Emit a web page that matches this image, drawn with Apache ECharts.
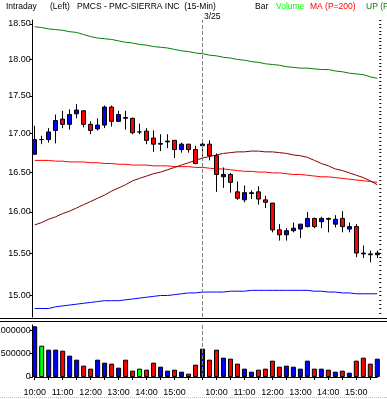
<!DOCTYPE html>
<html><head><meta charset="utf-8">
<script src="https://cdn.jsdelivr.net/npm/echarts@6/dist/echarts.min.js"></script>
<style>html,body{margin:0;padding:0;background:#fff;overflow:hidden}#c{width:387px;height:399px}</style>
</head><body><div id="c"></div>
<script>
const times = ["10:00","10:15","10:30","10:45","11:00","11:15","11:30","11:45","12:00","12:15","12:30","12:45","13:00","13:15","13:30","13:45","14:00","14:15","14:30","14:45","15:00","15:15","15:30","15:45",
"9:30","9:45","10:00","10:15","10:30","10:45","11:00","11:15","11:30","11:45","12:00","12:15","12:30","12:45","13:00","13:15","13:30","13:45","14:00","14:15","14:30","14:45","15:00","15:15","15:30","15:45"];
const opens  = [16.73,16.92,16.92,17.04,17.19,17.12,17.26,17.30,17.12,17.06,17.11,17.35,17.16,17.21,17.20,17.02,17.03,16.94,16.86,16.89,16.91,16.79,16.86,16.79,
16.84,16.86,16.71,16.44,16.47,16.25,16.15,16.23,16.25,16.15,16.11,15.78,15.72,15.77,15.79,15.82,15.92,15.88,15.92,15.85,15.92,15.79,15.82,15.50,15.49,15.48];
const closes = [16.92,16.92,17.02,17.17,17.12,17.25,17.31,17.12,17.04,17.11,17.35,17.16,17.25,17.20,17.01,17.02,16.91,16.86,16.87,16.90,16.79,16.86,16.79,16.61,
16.86,16.71,16.47,16.47,16.37,16.17,16.24,16.24,16.16,16.12,15.78,15.72,15.77,15.80,15.85,15.92,15.82,15.92,15.91,15.91,15.82,15.82,15.50,15.49,15.48,15.50];
const lows   = [16.72,16.86,16.88,16.87,17.07,17.05,17.20,17.08,16.99,17.04,17.07,17.09,17.15,17.05,16.99,16.99,16.86,16.76,16.77,16.81,16.68,16.75,16.75,16.60,
16.70,16.65,16.25,16.30,16.24,16.15,16.12,16.16,16.09,16.05,15.75,15.65,15.65,15.75,15.68,15.81,15.80,15.80,15.75,15.81,15.75,15.75,15.45,15.44,15.39,15.44];
const highs  = [17.10,16.97,17.07,17.25,17.30,17.32,17.39,17.31,17.16,17.20,17.37,17.37,17.30,17.30,17.21,17.13,17.07,17.04,16.99,16.99,16.91,16.88,16.86,16.84,
16.92,16.91,16.74,16.56,16.49,16.38,16.33,16.27,16.32,16.20,16.11,15.85,15.80,15.87,15.85,16.00,15.93,15.94,15.93,15.96,16.01,15.87,15.85,15.59,15.53,15.53];
const volumes = [1086000,671000,586000,586000,564000,457000,371000,243000,179000,371000,307000,286000,200000,371000,136000,179000,157000,307000,221000,136000,157000,114000,71000,264000,
607000,371000,586000,414000,393000,286000,179000,114000,157000,179000,350000,221000,243000,221000,179000,350000,179000,179000,157000,114000,136000,93000,350000,414000,286000,393000];
const upperBand = [18.46,18.45,18.43,18.42,18.41,18.39,18.38,18.35,18.32,18.30,18.29,18.28,18.26,18.24,18.23,18.21,18.20,18.18,18.17,18.16,18.14,18.12,18.11,18.09,
18.08,18.06,18.05,18.03,18.02,18.00,17.99,17.97,17.96,17.94,17.93,17.92,17.90,17.89,17.88,17.88,17.87,17.86,17.86,17.84,17.83,17.81,17.80,17.79,17.76,17.74];
const ma200 = [16.65,16.65,16.65,16.64,16.64,16.63,16.63,16.63,16.62,16.62,16.61,16.61,16.60,16.60,16.59,16.59,16.59,16.58,16.58,16.58,16.57,16.57,16.57,16.56,
16.56,16.55,16.54,16.54,16.53,16.52,16.51,16.51,16.50,16.50,16.49,16.49,16.48,16.47,16.47,16.46,16.45,16.44,16.44,16.43,16.42,16.41,16.40,16.39,16.38,16.37];
const maSlow = [15.84,15.87,15.91,15.94,15.98,16.01,16.05,16.09,16.13,16.17,16.21,16.26,16.30,16.34,16.39,16.42,16.45,16.48,16.50,16.53,16.56,16.59,16.62,16.65,
16.68,16.70,16.72,16.74,16.75,16.76,16.76,16.77,16.77,16.76,16.76,16.75,16.74,16.72,16.71,16.69,16.65,16.61,16.58,16.54,16.52,16.49,16.46,16.43,16.39,16.34];
const lowerBand = [14.85,14.85,14.85,14.87,14.88,14.89,14.90,14.91,14.92,14.93,14.94,14.94,14.94,14.95,14.96,14.97,14.98,14.99,15.00,15.00,15.01,15.02,15.03,15.03,
15.04,15.04,15.04,15.04,15.05,15.05,15.05,15.06,15.06,15.06,15.06,15.06,15.06,15.06,15.06,15.06,15.05,15.05,15.04,15.04,15.03,15.03,15.02,15.02,15.02,15.02];
const priceTicks = [15.00,15.50,16.00,16.50,17.00,17.50,18.00,18.50];
const volumeTicks = [0,500000,1000000];
const dayBreakIndex = 24;
const dayBreakLabel = "3/25";

const FONT = '"Liberation Sans",Arial,sans-serif';
const ln = Math.log;
const priceMin = 14.753, priceMax = 18.557;
const minorTicks = [];
for (let k = 0; k <= 80; k++) { const v = 14.75 + k * 0.05; if (v >= priceMin && v <= priceMax) minorTicks.push(ln(v)); }

const candleData = opens.map((o, i) => [ln(o), ln(closes[i]), ln(lows[i]), ln(highs[i])]);
const volColor = i => closes[i] > opens[i] ? '#0000ff' : (closes[i] < opens[i] ? '#ff0000' : '#00ff00');
const volData = volumes.map((v, i) => ({ value: v, itemStyle: { color: volColor(i) } }));

const chart = echarts.init(document.getElementById('c'), null, { renderer: 'canvas' });
const gridL = 34.7, gridW = 342.6;
const lineSeries = (data, color) => ({
  type: 'line', data: data.map(ln), xAxisIndex: 0, yAxisIndex: 0, showSymbol: false, symbol: 'none',
  lineStyle: { color, width: 1 }, silent: true, z: 1
});
const text = (t, x, y, color, size) => ({ type: 'text', x, y, silent: true,
  style: { text: t, fill: color, font: (size || 8.5) + 'px ' + FONT } });

chart.setOption({
  animation: false,
  backgroundColor: '#fff',
  grid: [
    { left: gridL, width: gridW, top: 20, height: 297, outerBoundsMode: 'none', containLabel: false },
    { left: gridL, width: gridW, top: 325, height: 52, outerBoundsMode: 'none', containLabel: false }
  ],
  xAxis: [
    { type: 'category', gridIndex: 0, data: times, boundaryGap: false, axisLine: { show: false }, axisTick: { show: false }, axisLabel: { show: false }, splitLine: { show: false } },
    { type: 'category', gridIndex: 1, data: times, boundaryGap: false,
      axisLine: { show: true, lineStyle: { color: '#000', width: 1 } },
      axisTick: { show: true, interval: 1, length: 3, lineStyle: { color: '#000' } },
      axisLabel: { interval: (i, v) => v.endsWith(':00'), color: '#000', fontSize: 9, fontFamily: FONT, margin: 11 },
      splitLine: { show: false } }
  ],
  yAxis: [
    { type: 'value', gridIndex: 0, min: ln(priceMin), max: ln(priceMax), offset: 2,
      axisLine: { show: true, lineStyle: { color: '#000' } },
      axisTick: { show: true, length: 3, customValues: priceTicks.map(ln), lineStyle: { color: '#000' } },
      axisLabel: { customValues: priceTicks.map(ln), formatter: v => Math.exp(v).toFixed(2), color: '#000', fontSize: 9, fontFamily: FONT, margin: 2 },
      splitLine: { show: false } },
    { type: 'value', gridIndex: 0, min: ln(priceMin), max: ln(priceMax), offset: 2,
      axisLine: { show: false },
      axisTick: { show: true, length: 2, customValues: minorTicks, lineStyle: { color: '#000' } },
      axisLabel: { show: false }, splitLine: { show: false } },
    { type: 'value', gridIndex: 1, min: 0, max: 1113500, offset: 2,
      axisLine: { show: true, lineStyle: { color: '#000' } },
      axisTick: { show: true, length: 3, customValues: volumeTicks, lineStyle: { color: '#000' } },
      axisLabel: { customValues: volumeTicks, formatter: v => String(v), color: '#000', fontSize: 9, fontFamily: FONT, margin: 2 },
      splitLine: { show: false } }
  ],
  series: [
    lineSeries(upperBand, '#008000'),
    lineSeries(lowerBand, '#0000ff'),
    lineSeries(ma200, '#ff0000'),
    lineSeries(maSlow, '#800000'),
    { type: 'candlestick', xAxisIndex: 0, yAxisIndex: 0, data: candleData, barWidth: 5, z: 3,
      itemStyle: { color: '#0000ff', color0: '#ff0000', borderColor: '#000', borderColor0: '#000', borderColorDoji: '#000', borderWidth: 1 },
      markLine: { silent: true, symbol: 'none', label: { show: false },
        lineStyle: { color: '#808080', type: [4, 2], width: 1 }, data: [{ xAxis: dayBreakIndex }] } },
    { type: 'bar', xAxisIndex: 1, yAxisIndex: 2, data: volData, barWidth: 5, z: 3,
      itemStyle: { borderColor: '#000', borderWidth: 1 },
      markLine: { silent: true, symbol: 'none', label: { show: false },
        lineStyle: { color: '#808080', type: [4, 2], width: 1 }, data: [{ xAxis: dayBreakIndex }] } }
  ],
  graphic: [
    text('Intraday', 6, 2, '#000'),
    text('(Left)', 50, 2, '#000'),
    text('PMCS - PMC-SIERRA INC  (15-Min)', 77, 2, '#000'),
    text('Bar', 255, 2, '#000'),
    text('Volume', 276, 2, '#00ff00'),
    text('MA (P=200)', 310, 2, '#ff0000'),
    text('UP (P=200)', 366, 2, '#008000'),
    text(dayBreakLabel, 204, 12, '#000'),
    { type: 'line', silent: true, shape: { x1: 0, y1: 318.5, x2: 387, y2: 318.5 }, style: { stroke: '#000', lineWidth: 1 } },
    { type: 'line', silent: true, shape: { x1: 0, y1: 321.5, x2: 387, y2: 321.5 }, style: { stroke: '#000', lineWidth: 1 } },
    { type: 'line', silent: true, shape: { x1: 0, y1: 397.5, x2: 387, y2: 397.5 }, style: { stroke: '#c0c0c0', lineWidth: 1, lineDash: [1, 1] } }
  ]
});
</script></body></html>
